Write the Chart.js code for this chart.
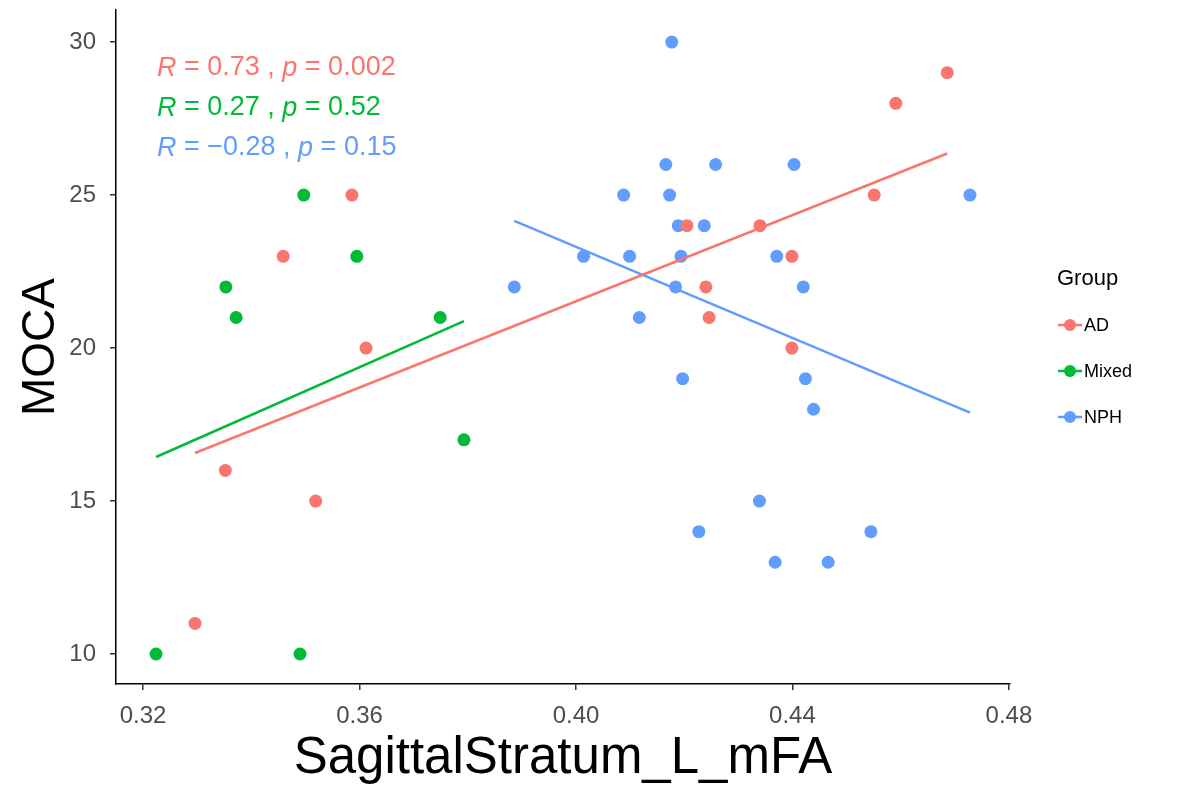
<!DOCTYPE html>
<html>
<head>
<meta charset="utf-8">
<script src="https://cdn.jsdelivr.net/npm/chart.js@4"></script>
<style>
  body { margin: 0; background: #fff; }
  #chart { display: block; }
</style>
</head>
<body>
<canvas id="chart" width="1180" height="790"></canvas>
<script>
// values
const adX = [0.3586, 0.3459, 0.3612, 0.3352, 0.3519, 0.3296, 0.4686, 0.4591, 0.4551, 0.4340, 0.4205, 0.4399, 0.4240, 0.4246, 0.4399];
const adY = [25, 23, 20, 16, 15, 11, 29, 28, 25, 24, 24, 23, 22, 21, 20];

const mixedX = [0.3497, 0.3353, 0.3595, 0.3372, 0.3749, 0.3793, 0.3224, 0.3490];
const mixedY = [25, 22, 23, 21, 21, 17, 10, 10];

const nphX = [0.4177, 0.4166, 0.4258, 0.4403, 0.4088, 0.4173, 0.4728, 0.4189, 0.4237,
  0.4014, 0.4099, 0.4194, 0.4371, 0.3886, 0.4184, 0.4420, 0.4117, 0.4197, 0.4424,
  0.4439, 0.4339, 0.4227, 0.4545, 0.4368, 0.4466];
const nphY = [30, 26, 26, 26, 25, 25, 25, 24, 24,
  23, 23, 23, 23, 22, 22, 22, 21, 19, 19,
  18, 15, 14, 14, 13, 13];

// ends of the lm fit lines
const adFitX = [0.3296, 0.4686];
const adFitY = [16.57, 26.36];
const mixedFitX = [0.3224, 0.3793];
const mixedFitY = [16.44, 20.88];
const nphFitX = [0.3886, 0.4728];
const nphFitY = [24.16, 17.89];

const xTicks = [0.32, 0.36, 0.40, 0.44, 0.48];
const yTicks = [10, 15, 20, 25, 30];

const groups = ["AD", "Mixed", "NPH"];
const colors = ["#F8766D", "#00BA38", "#619CFF"];
const statLabels = [
  ["R", " = 0.73 , ", "p", " = 0.002"],
  ["R", " = 0.27 , ", "p", " = 0.52"],
  ["R", " = \u22120.28 , ", "p", " = 0.15"],
];

const FONT = "'Liberation Sans', Arial, sans-serif";

const toPoints = (xs, ys) => xs.map((x, i) => ({ x: x, y: ys[i] }));

function pointSet(label, xs, ys, color) {
  return {
    label: label,
    data: toPoints(xs, ys),
    backgroundColor: color,
    borderColor: color,
    pointRadius: 6.5,
    pointBorderWidth: 0,
    showLine: false,
    order: 2,
  };
}

function fitSet(xs, ys, color) {
  return {
    label: "fit",
    data: toPoints(xs, ys),
    borderColor: color,
    borderWidth: 2.5,
    pointRadius: 0,
    showLine: true,
    order: 1,
  };
}

// R / p labels in the top left corner
const statsPlugin = {
  id: "stats",
  afterDatasetsDraw(chart) {
    const c = chart.ctx;
    c.save();
    c.textBaseline = "middle";
    statLabels.forEach((parts, i) => {
      let x = 157;
      const y = 68 + i * 40;
      c.fillStyle = colors[i];
      parts.forEach((p, j) => {
        c.font = (j % 2 === 0 ? "italic " : "") + "27px " + FONT;
        c.fillText(p, x, y);
        x += c.measureText(p).width;
      });
    });
    c.restore();
  },
};

// legend on the right, drawn like the ggplot key
const legendPlugin = {
  id: "groupLegend",
  afterDraw(chart) {
    const c = chart.ctx;
    c.save();
    c.textBaseline = "middle";
    c.fillStyle = "#000";
    c.font = "22px " + FONT;
    c.fillText("Group", 1057, 279);
    groups.forEach((g, i) => {
      const y = 325 + i * 46;
      c.strokeStyle = colors[i];
      c.lineWidth = 2.5;
      c.beginPath();
      c.moveTo(1058, y);
      c.lineTo(1082, y);
      c.stroke();
      c.fillStyle = colors[i];
      c.beginPath();
      c.arc(1070, y, 6, 0, Math.PI * 2);
      c.fill();
      c.fillStyle = "#000";
      c.font = "18px " + FONT;
      c.fillText(g, 1084, y + 1);
    });
    c.restore();
  },
};

new Chart(document.getElementById("chart"), {
  type: "scatter",
  data: {
    datasets: [
      fitSet(adFitX, adFitY, colors[0]),
      fitSet(mixedFitX, mixedFitY, colors[1]),
      fitSet(nphFitX, nphFitY, colors[2]),
      pointSet(groups[0], adX, adY, colors[0]),
      pointSet(groups[1], mixedX, mixedY, colors[1]),
      pointSet(groups[2], nphX, nphY, colors[2]),
    ],
  },
  options: {
    responsive: false,
    animation: false,
    layout: { padding: { top: 10, right: 170, left: 0, bottom: 0 } },
    plugins: {
      legend: { display: false },
      tooltip: { enabled: false },
    },
    scales: {
      x: {
        type: "linear",
        min: 0.315,
        max: 0.4802,
        afterBuildTicks: (s) => {
          s.ticks = xTicks.map((v) => ({ value: v }));
        },
        afterFit: (s) => {
          s.height = 106;
        },
        ticks: {
          callback: (v) => v.toFixed(2),
          color: "#4D4D4D",
          font: { family: FONT, size: 24 },
          padding: 12,
          maxRotation: 0,
        },
        grid: { drawOnChartArea: false, tickLength: 6, color: "#333", lineWidth: 1.5 },
        border: { color: "#000", width: 1.5 },
        title: {
          display: true,
          text: "SagittalStratum_L_mFA",
          color: "#000",
          font: { family: FONT, size: 51 },
          padding: { top: 0, bottom: 0 },
        },
      },
      y: {
        type: "linear",
        min: 9.02,
        max: 31.05,
        afterBuildTicks: (s) => {
          s.ticks = yTicks.map((v) => ({ value: v }));
        },
        afterFit: (s) => {
          s.width = 116;
          s.paddingTop = 0;
          s.paddingBottom = 0;
        },
        ticks: {
          color: "#4D4D4D",
          font: { family: FONT, size: 24 },
          padding: 14,
        },
        grid: { drawOnChartArea: false, tickLength: 6, color: "#333", lineWidth: 1.5 },
        border: { color: "#000", width: 1.5 },
        title: {
          display: true,
          text: "MOCA",
          color: "#000",
          font: { family: FONT, size: 46 },
          padding: { top: 14, bottom: 0 },
        },
      },
    },
  },
  plugins: [statsPlugin, legendPlugin],
});
</script>
</body>
</html>
